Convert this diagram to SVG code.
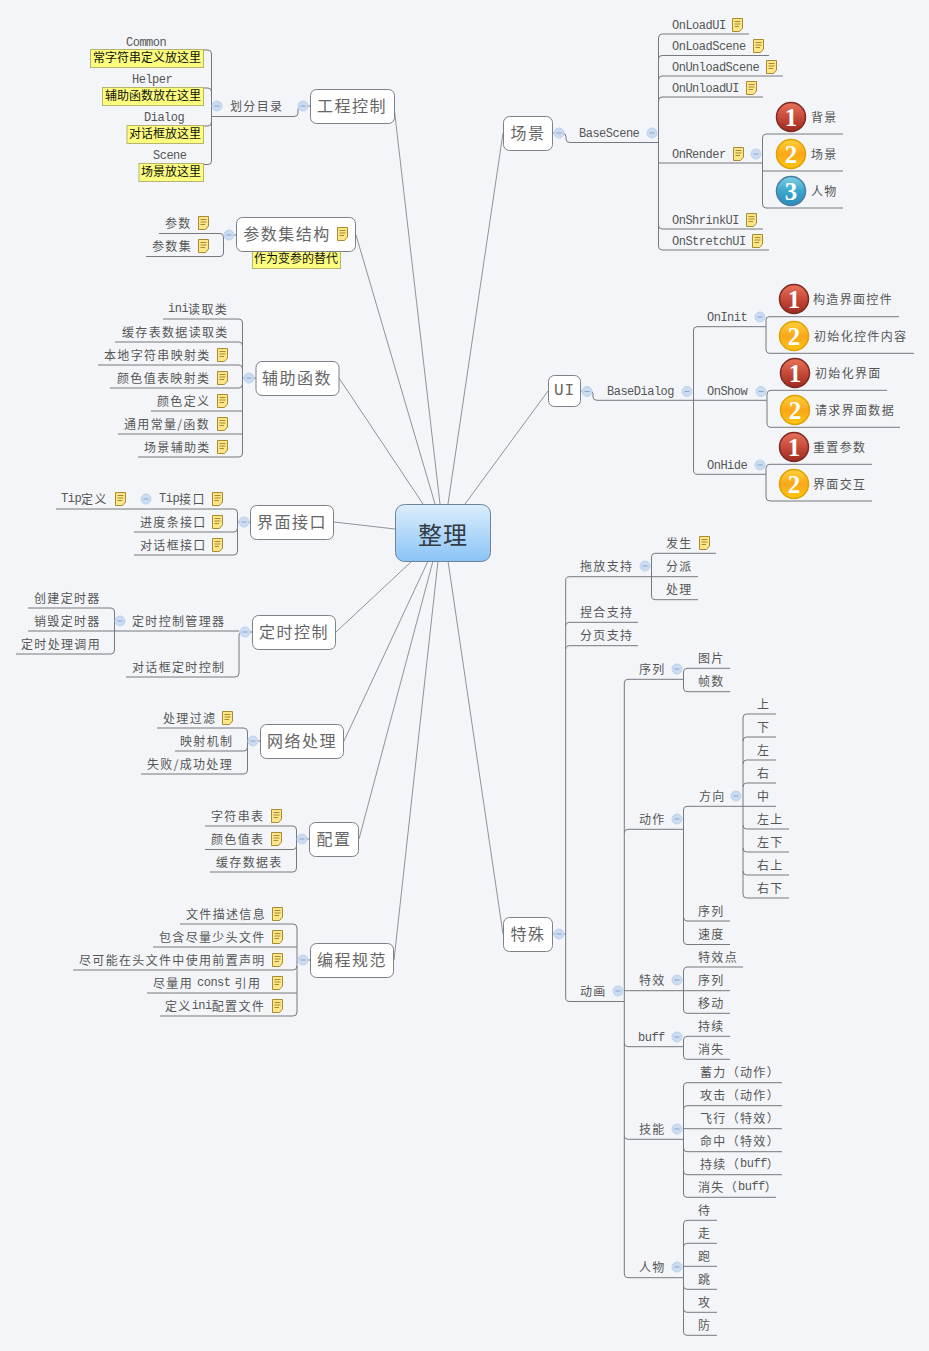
<svg xmlns="http://www.w3.org/2000/svg" width="929" height="1351" viewBox="0 0 929 1351">
<style>
text{dominant-baseline:central;font-family:"Noto Sans CJK SC","Liberation Sans",sans-serif}
.t{font-size:12px;letter-spacing:1.33px;fill:#555;transform:translateY(-1px)}
.l{font-family:"Liberation Mono","Noto Sans CJK SC",monospace;font-size:12px;letter-spacing:-.5px;fill:#555}
text.l{transform:translateY(1px)}
.t .l{baseline-shift:-1px}
.m{font-size:16px;letter-spacing:1.5px;fill:#666;text-anchor:middle;transform:translateY(-1px)}
.y{font-size:12px;fill:#111;transform:translateY(-2px)}
.box{fill:#fff;stroke:#7d8084;stroke-width:1}
.nb{fill:#fcfc7e;stroke:#b5b570;stroke-width:1}
.c{fill:none;stroke:#77797d;stroke-width:1}
.r{fill:none;stroke:#85878b;stroke-width:.9}
.num{font-family:"Liberation Serif",serif;font-weight:700;font-size:25px;fill:#fff;text-anchor:middle}
</style>
<defs>
<linearGradient id="gc" x1="0" y1="0" x2="0" y2="1"><stop offset="0" stop-color="#dceefc"/><stop offset="1" stop-color="#8ac3f6"/></linearGradient>
<linearGradient id="g1" x1="0" y1="0" x2="0" y2="1"><stop offset="0" stop-color="#e8735c"/><stop offset=".5" stop-color="#c74a3a"/><stop offset="1" stop-color="#9c2a20"/></linearGradient>
<linearGradient id="g2" x1="0" y1="0" x2="0" y2="1"><stop offset="0" stop-color="#ffd23a"/><stop offset=".5" stop-color="#f9a71a"/><stop offset="1" stop-color="#fbc60f"/></linearGradient>
<linearGradient id="g3" x1="0" y1="0" x2="0" y2="1"><stop offset="0" stop-color="#7fd0e6"/><stop offset=".5" stop-color="#3ba6cc"/><stop offset="1" stop-color="#2b8cb8"/></linearGradient>
<g id="note"><path d="M.5 .5H10.500V10L7.500 13.500H.5Z" fill="#fde58a" stroke="#a98a2c"/><path d="M2.500 3.500H8.500M2.500 6H8.500M2.500 8.500H7" stroke="#a98a2c" fill="none"/></g>
<g id="col"><circle r="5" fill="#cbdcf2" stroke="#bdd2ee"/><path d="M-2.500 0H2.500" stroke="#8ba6cb"/></g>
<g id="b1"><circle r="14.500" fill="url(#g1)" stroke="#7d2b22" stroke-width="1.500"/><text class="num" y="0">1</text></g>
<g id="b2"><circle r="14.500" fill="url(#g2)" stroke="#e0a000" stroke-width="1.500"/><text class="num" y="0">2</text></g>
<g id="b3"><circle r="14.500" fill="url(#g3)" stroke="#4a7da0" stroke-width="1.500"/><text class="num" y="0">3</text></g>
</defs>
<rect width="929" height="1351" fill="#f3f5f9"/>

<g id="connectors">
<path class="r" d="M394 106Q396 125 440 504M356 235L435 504M339 378L423 504M334 522L395 529M336 632L412 561M344 741L428 561M359 839L433 561M394 960L438 561M503 133L448 504M548 391L465 504M503 934L448 561"/>
<path class="c" d="M310 106H303Q298 106 298 110V113Q298 116.500 294 116.500H212M203 50H208Q211.500 50 211.500 54V161Q211.500 164.500 208 164.500H203M203 88H208Q211.500 88 211.500 92M203 126H208Q211.500 126 211.500 122"/>
<path class="c" d="M236 235H226M159 233.500H220Q223.500 233.500 223.500 237V253Q223.500 256.500 220 256.500H146"/>
<path class="c" d="M256 378H243M163 319H239Q242.500 319 242.500 323V453Q242.500 457 239 457H138M115 342H239Q242.500 342 242.500 346M98 365H239Q242.500 365 242.500 369M110 388H239Q242.500 388 242.500 384M151 411H242.500M118 434H242.500"/>
<path class="c" d="M250 522H238M56 509H234Q237.500 509 237.500 513V551Q237.500 555 234 555H134M134 532H234Q237.500 532 237.500 528"/>
<path class="c" d="M252 632H243Q239 632 239 635V673Q239 677 235 677H126M28 631H239M28 608H111Q114.500 608 114.500 612V650Q114.500 654 111 654H16"/>
<path class="c" d="M260 741H248M157 728H244Q247.500 728 247.500 732V770Q247.500 774 244 774H141M175 751H244Q247.500 751 247.500 747"/>
<path class="c" d="M309 839H297M205 826H293Q296.500 826 296.500 830V868Q296.500 872 293 872H210M205 849.500H293Q296.500 849.500 296.500 846"/>
<path class="c" d="M310 960H298M180 924H293Q297 924 297 928V1012Q297 1016 293 1016H160M153 947H297M73 970H293Q297 970 297 966M147 993H297"/>
<path class="c" d="M553 133H562Q566 133 566 137V139Q566 142.500 570 142.500H658.500M749 34H662Q658.500 34 658.500 38V246Q658.500 250 662 250H769M769 55.500H662Q658.500 55.500 658.500 59M783 76H662Q658.500 76 658.500 80M763 97H662Q658.500 97 658.500 101M659 163H762.500M763 229H662Q658.500 229 658.500 225M843 134H766Q762.500 134 762.500 138V204Q762.500 208 766 208H843M762.500 171H843"/>
<path class="c" d="M581 391H590Q593 391 593 394V397Q593 400.300 597 400.300H767M766 326.700H697Q693.500 326.700 693.500 330V470Q693.500 474.300 697 474.300H766M899 316.700H769Q766 316.700 766 320V349Q766 353.300 770 353.300H914M887 390.300H771Q767 390.300 767 394V423Q767 427.300 771 427.300H900M872 464.300H770Q766 464.300 766 468V497Q766 501 770 501H872"/>
<path class="c" d="M553 934H565.700M716 553.300H655Q651.500 553.300 651.500 557V596Q651.500 599.700 655 599.700H698M698 576.700H570Q565.700 576.700 565.700 580V998Q565.700 1001.500 570 1001.500H624.300M638 622.300H570Q565.700 622.300 565.700 626M638 645.700H570Q565.700 645.700 565.700 649"/>
<path class="c" d="M684 679.300H628Q624.300 679.300 624.300 683V1274Q624.300 1277.700 628 1277.700H683.500M684 829.300H628Q624.300 829.300 624.300 833M624.300 990.700H730M684 1046.700H628Q624.300 1046.700 624.300 1043M684 1139.300H628Q624.300 1139.300 624.300 1136"/>
<path class="c" d="M730 668.300H687Q683.500 668.300 683.500 672V688Q683.500 691.700 687 691.700H730"/>
<path class="c" d="M776 806.300H687Q683.500 806.300 683.500 810V941Q683.500 944.500 687 944.500H730M730 921H687Q683.500 921 683.500 917M776 714H746.500Q743 714 743 718V894Q743 898 746.500 898H789M776 737H746.500Q743 737 743 741M776 760H746.500Q743 760 743 764M776 783H746.500Q743 783 743 787M789 829H746.500Q743 829 743 825M789 852H746.500Q743 852 743 848M789 875H746.500Q743 875 743 871"/>
<path class="c" d="M743 967H687Q683.500 967 683.500 971V1010Q683.500 1013.300 687 1013.300H730"/>
<path class="c" d="M730 1036.300H687Q683.500 1036.300 683.500 1040V1056Q683.500 1059.300 687 1059.300H730"/>
<path class="c" d="M782 1082.700H687Q683.500 1082.700 683.500 1086V1194Q683.500 1197.300 687 1197.300H776M782 1105.700H687Q683.500 1105.700 683.500 1109M683.500 1128.700H782M782 1151.700H687Q683.500 1151.700 683.500 1148M782 1174.700H687Q683.500 1174.700 683.500 1171"/>
<path class="c" d="M717 1220.300H687Q683.500 1220.300 683.500 1224V1332Q683.500 1335.300 687 1335.300H717M717 1243.300H687Q683.500 1243.300 683.500 1247M683.500 1266.300H717M717 1289.300H687Q683.500 1289.300 683.500 1286M717 1312.300H687Q683.500 1312.300 683.500 1309"/>
</g>

<g id="root"><rect x="395.500" y="504.500" width="95" height="57" rx="9" fill="url(#gc)" stroke="#6d8499"/><text x="443" y="533" font-size="24" letter-spacing="1" fill="#333b44" text-anchor="middle">整理</text></g>

<g id="gongcheng"><rect class="box" x="310.500" y="89.500" width="84" height="34" rx="6"/><text class="m" x="352" y="106">工程控制</text><use href="#col" x="303" y="106"/></g>
<g id="huafen"><text class="t" x="230" y="106">划分目录</text><use href="#col" x="217" y="106"/></g>
<g id="common"><text class="l" x="126" y="42">Common</text><rect class="nb" x="90.500" y="49.500" width="113" height="18"/><text class="y" x="93" y="58">常字符串定义放这里</text></g>
<g id="helper"><text class="l" x="132" y="79">Helper</text><rect class="nb" x="102.500" y="87.500" width="101" height="18"/><text class="y" x="105" y="96">辅助函数放在这里</text></g>
<g id="dialog"><text class="l" x="144" y="117">Dialog</text><rect class="nb" x="127" y="125.500" width="76.500" height="18"/><text class="y" x="129" y="134">对话框放这里</text></g>
<g id="scene"><text class="l" x="153" y="155">Scene</text><rect class="nb" x="139" y="163.500" width="64.500" height="18"/><text class="y" x="141" y="172">场景放这里</text></g>

<g id="canshu"><rect class="nb" x="252.500" y="250.500" width="88" height="18"/><rect class="box" x="236.500" y="217.500" width="119" height="34" rx="6"/><text class="m" x="287" y="234">参数集结构</text><use href="#note" x="337" y="227"/><use href="#col" x="229" y="235"/><text class="y" x="254" y="259">作为变参的替代</text></g>
<g id="cs1"><text class="t" x="165" y="223">参数</text><use href="#note" x="198" y="216"/></g>
<g id="cs2"><text class="t" x="152" y="246">参数集</text><use href="#note" x="198" y="239"/></g>

<g id="fuzhu"><rect class="box" x="256" y="361.500" width="83" height="34" rx="6"/><text class="m" x="297" y="378">辅助函数</text><use href="#col" x="249" y="378"/></g>
<g id="fz1"><text class="t" x="168" y="309"><tspan class="l">ini</tspan>读取类</text></g>
<g id="fz2"><text class="t" x="122" y="332">缓存表数据读取类</text></g>
<g id="fz3"><text class="t" x="104" y="355">本地字符串映射类</text><use href="#note" x="217" y="348"/></g>
<g id="fz4"><text class="t" x="117" y="378">颜色值表映射类</text><use href="#note" x="217" y="371"/></g>
<g id="fz5"><text class="t" x="157" y="401">颜色定义</text><use href="#note" x="217" y="394"/></g>
<g id="fz6"><text class="t" x="124" y="424">通用常量/函数</text><use href="#note" x="217" y="417"/></g>
<g id="fz7"><text class="t" x="144" y="447">场景辅助类</text><use href="#note" x="217" y="440"/></g>

<g id="jiemian"><rect class="box" x="250.500" y="505.500" width="83" height="34" rx="6"/><text class="m" x="292" y="522">界面接口</text><use href="#col" x="244" y="522"/></g>
<g id="jm0"><text class="t" x="61" y="499"><tspan class="l">Tip</tspan>定义</text><use href="#note" x="115" y="492"/></g>
<g id="jm1"><text class="t" x="159" y="499"><tspan class="l">Tip</tspan>接口</text><use href="#note" x="212" y="492"/><use href="#col" x="146" y="499"/></g>
<g id="jm2"><text class="t" x="140" y="522">进度条接口</text><use href="#note" x="212" y="515"/></g>
<g id="jm3"><text class="t" x="140" y="545">对话框接口</text><use href="#note" x="212" y="538"/></g>

<g id="dingshi"><rect class="box" x="252.500" y="615.500" width="83" height="34" rx="6"/><text class="m" x="294" y="632">定时控制</text><use href="#col" x="245" y="632"/></g>
<g id="ds1"><text class="t" x="132" y="621">定时控制管理器</text><use href="#col" x="120" y="621"/></g>
<g id="ds2"><text class="t" x="132" y="667">对话框定时控制</text></g>
<g id="ds3"><text class="t" x="34" y="598">创建定时器</text></g>
<g id="ds4"><text class="t" x="34" y="621">销毁定时器</text></g>
<g id="ds5"><text class="t" x="21" y="644">定时处理调用</text></g>

<g id="wangluo"><rect class="box" x="260.500" y="724.500" width="83" height="34" rx="6"/><text class="m" x="302" y="741">网络处理</text><use href="#col" x="253" y="741"/></g>
<g id="wl1"><text class="t" x="163" y="718">处理过滤</text><use href="#note" x="222" y="711"/></g>
<g id="wl2"><text class="t" x="180" y="741">映射机制</text></g>
<g id="wl3"><text class="t" x="147" y="764">失败/成功处理</text></g>

<g id="peizhi"><rect class="box" x="309.500" y="822.500" width="49" height="34" rx="6"/><text class="m" x="334" y="839">配置</text><use href="#col" x="302" y="839"/></g>
<g id="pz1"><text class="t" x="211" y="816">字符串表</text><use href="#note" x="271" y="809"/></g>
<g id="pz2"><text class="t" x="211" y="839">颜色值表</text><use href="#note" x="271" y="832"/></g>
<g id="pz3"><text class="t" x="216" y="862">缓存数据表</text></g>

<g id="biancheng"><rect class="box" x="310.500" y="943.500" width="83" height="34" rx="6"/><text class="m" x="352" y="960">编程规范</text><use href="#col" x="303" y="960"/></g>
<g id="bc1"><text class="t" x="186" y="914">文件描述信息</text><use href="#note" x="272" y="907"/></g>
<g id="bc2"><text class="t" x="159" y="937">包含尽量少头文件</text><use href="#note" x="272" y="930"/></g>
<g id="bc3"><text class="t" x="79" y="960">尽可能在头文件中使用前置声明</text><use href="#note" x="272" y="953"/></g>
<g id="bc4"><text class="t" x="153" y="983">尽量用 <tspan class="l">const</tspan> 引用</text><use href="#note" x="272" y="976"/></g>
<g id="bc5"><text class="t" x="165" y="1006">定义<tspan class="l">ini</tspan>配置文件</text><use href="#note" x="272" y="999"/></g>

<g id="changjing"><rect class="box" x="503.500" y="116.500" width="49" height="34" rx="6"/><text class="m" x="528" y="133">场景</text><use href="#col" x="559" y="133"/></g>
<g id="basescene"><text class="l" x="579" y="133">BaseScene</text><use href="#col" x="652" y="133"/></g>
<g id="sc1"><text class="l" x="672" y="25">OnLoadUI</text><use href="#note" x="732" y="18"/></g>
<g id="sc2"><text class="l" x="672" y="46">OnLoadScene</text><use href="#note" x="753" y="39"/></g>
<g id="sc3"><text class="l" x="672" y="67">OnUnloadScene</text><use href="#note" x="766" y="60"/></g>
<g id="sc4"><text class="l" x="672" y="88">OnUnloadUI</text><use href="#note" x="746" y="81"/></g>
<g id="sc5"><text class="l" x="672" y="154">OnRender</text><use href="#note" x="733" y="147"/><use href="#col" x="756" y="154"/></g>
<g id="sc6"><text class="l" x="672" y="220">OnShrinkUI</text><use href="#note" x="746" y="213"/></g>
<g id="sc7"><text class="l" x="672" y="241">OnStretchUI</text><use href="#note" x="752" y="234"/></g>
<g id="r1"><use href="#b1" x="791" y="117"/><text class="t" x="811" y="117">背景</text></g>
<g id="r2"><use href="#b2" x="791" y="154"/><text class="t" x="811" y="154">场景</text></g>
<g id="r3"><use href="#b3" x="791" y="191"/><text class="t" x="811" y="191">人物</text></g>

<g id="ui"><rect class="box" x="548.500" y="375.500" width="32" height="31" rx="6"/><text x="564.500" y="391" font-size="16" letter-spacing="1" fill="#666" text-anchor="middle" style="font-family:'Liberation Mono',monospace">UI</text><use href="#col" x="587" y="391.500"/></g>
<g id="basedialog"><text class="l" x="607" y="391">BaseDialog</text><use href="#col" x="687" y="391.500"/></g>
<g id="oninit"><text class="l" x="707" y="317">OnInit</text><use href="#col" x="760" y="317"/></g>
<g id="onshow"><text class="l" x="707" y="391">OnShow</text><use href="#col" x="761" y="391.500"/></g>
<g id="onhide"><text class="l" x="707" y="465">OnHide</text><use href="#col" x="760" y="465"/></g>
<g id="i1"><use href="#b1" x="794" y="299"/><text class="t" x="813" y="299">构造界面控件</text></g>
<g id="i2"><use href="#b2" x="794" y="336"/><text class="t" x="814" y="336">初始化控件内容</text></g>
<g id="s1"><use href="#b1" x="795" y="373"/><text class="t" x="815" y="373">初始化界面</text></g>
<g id="s2"><use href="#b2" x="795" y="410"/><text class="t" x="815" y="410">请求界面数据</text></g>
<g id="h1"><use href="#b1" x="794" y="447"/><text class="t" x="813" y="447">重置参数</text></g>
<g id="h2"><use href="#b2" x="794" y="484"/><text class="t" x="813" y="484">界面交互</text></g>

<g id="teshu"><rect class="box" x="503.500" y="917.500" width="49" height="34" rx="6"/><text class="m" x="528" y="934">特殊</text><use href="#col" x="559" y="934"/></g>
<g id="tuofang"><text class="t" x="580" y="566">拖放支持</text><use href="#col" x="645" y="566"/></g>
<g id="tf1"><text class="t" x="666" y="543">发生</text><use href="#note" x="699" y="536"/></g>
<g id="tf2"><text class="t" x="666" y="566">分派</text></g>
<g id="tf3"><text class="t" x="666" y="589">处理</text></g>
<g id="niehe"><text class="t" x="580" y="612">捏合支持</text></g>
<g id="fenye"><text class="t" x="580" y="635">分页支持</text></g>
<g id="donghua"><text class="t" x="580" y="991">动画</text><use href="#col" x="618" y="991"/></g>
<g id="xulie"><text class="t" x="639" y="669">序列</text><use href="#col" x="677" y="669"/></g>
<g id="xl1"><text class="t" x="698" y="658">图片</text></g>
<g id="xl2"><text class="t" x="698" y="681">帧数</text></g>
<g id="dongzuo"><text class="t" x="639" y="819">动作</text><use href="#col" x="677" y="819"/></g>
<g id="fangxiang"><text class="t" x="699" y="796">方向</text><use href="#col" x="736" y="796"/></g>
<g id="d1"><text class="t" x="757" y="704">上</text></g>
<g id="d2"><text class="t" x="757" y="727">下</text></g>
<g id="d3"><text class="t" x="757" y="750">左</text></g>
<g id="d4"><text class="t" x="757" y="773">右</text></g>
<g id="d5"><text class="t" x="757" y="796">中</text></g>
<g id="d6"><text class="t" x="757" y="819">左上</text></g>
<g id="d7"><text class="t" x="757" y="842">左下</text></g>
<g id="d8"><text class="t" x="757" y="865">右上</text></g>
<g id="d9"><text class="t" x="757" y="888">右下</text></g>
<g id="dz1"><text class="t" x="698" y="911">序列</text></g>
<g id="dz2"><text class="t" x="698" y="934">速度</text></g>
<g id="texiao"><text class="t" x="639" y="980">特效</text><use href="#col" x="677" y="980"/></g>
<g id="tx1"><text class="t" x="698" y="957">特效点</text></g>
<g id="tx2"><text class="t" x="698" y="980">序列</text></g>
<g id="tx3"><text class="t" x="698" y="1003">移动</text></g>
<g id="buff"><text class="l" x="638" y="1037">buff</text><use href="#col" x="677" y="1037"/></g>
<g id="bf1"><text class="t" x="698" y="1026">持续</text></g>
<g id="bf2"><text class="t" x="698" y="1049">消失</text></g>
<g id="jineng"><text class="t" x="639" y="1129">技能</text><use href="#col" x="677" y="1129"/></g>
<g id="jn1"><text class="t" x="700" y="1072">蓄力（动作）</text></g>
<g id="jn2"><text class="t" x="700" y="1095">攻击（动作）</text></g>
<g id="jn3"><text class="t" x="700" y="1118">飞行（特效）</text></g>
<g id="jn4"><text class="t" x="700" y="1141">命中（特效）</text></g>
<g id="jn5"><text class="t" x="700" y="1164">持续（<tspan class="l">buff</tspan>）</text></g>
<g id="jn6"><text class="t" x="698" y="1187">消失（<tspan class="l">buff</tspan>）</text></g>
<g id="renwu"><text class="t" x="639" y="1267">人物</text><use href="#col" x="677" y="1267"/></g>
<g id="rw1"><text class="t" x="698" y="1210">待</text></g>
<g id="rw2"><text class="t" x="698" y="1233">走</text></g>
<g id="rw3"><text class="t" x="698" y="1256">跑</text></g>
<g id="rw4"><text class="t" x="698" y="1279">跳</text></g>
<g id="rw5"><text class="t" x="698" y="1302">攻</text></g>
<g id="rw6"><text class="t" x="698" y="1325">防</text></g>
</svg>
